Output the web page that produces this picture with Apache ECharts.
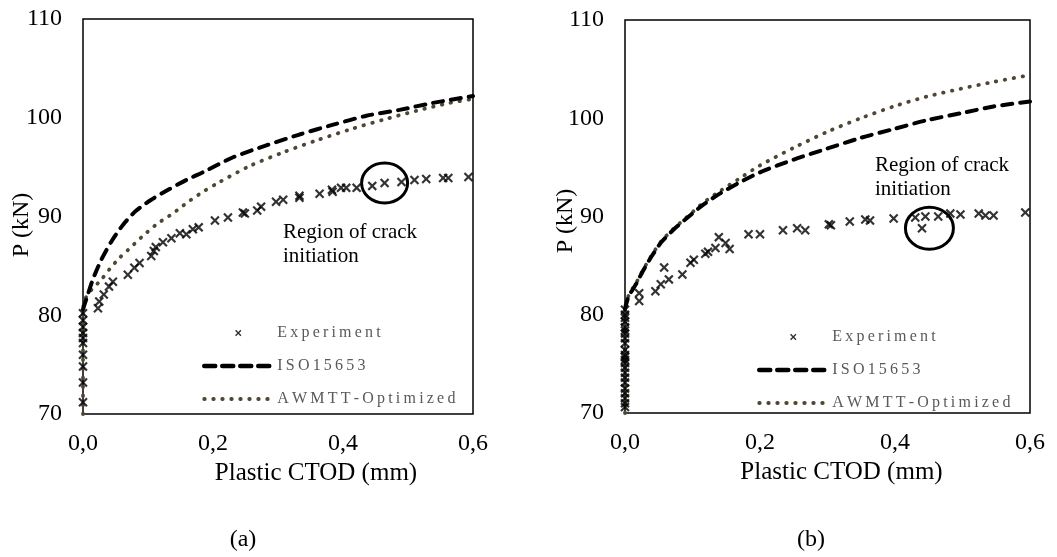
<!DOCTYPE html>
<html>
<head>
<meta charset="utf-8">
<script src="https://cdn.jsdelivr.net/npm/echarts@6/dist/echarts.min.js"></script>
<style>
html, body { margin: 0; padding: 0; background: #fff; }
#main { width: 1057px; height: 557px; }
</style>
</head>
<body>
<div id="main"></div>
<script>
// axes
var xMin = 0, xMax = 0.6, xStep = 0.2;
var yMin = 70, yMax = 110, yStep = 10;

// (a) experiment [CTOD, P]
var expA = [
    [0, 71.2], [0, 73.2], [0, 74.8], [0, 76.0], [0, 77.2], [0, 77.7], [0, 78.2], [0, 78.8], [0, 79.5], [0, 80.2],
    [0.023, 80.7], [0.025, 81.4], [0.032, 82.1], [0.040, 82.9], [0.046, 83.4], [0.069, 84.1], [0.079, 84.8],
    [0.087, 85.3], [0.105, 86.0], [0.109, 86.5], [0.112, 86.9], [0.123, 87.4], [0.136, 87.8], [0.149, 88.3],
    [0.159, 88.2], [0.169, 88.7], [0.178, 88.9], [0.203, 89.6], [0.223, 89.9], [0.246, 90.4], [0.249, 90.3],
    [0.268, 90.6], [0.274, 91.0], [0.297, 91.5], [0.308, 91.7], [0.333, 92.1], [0.333, 91.9], [0.364, 92.3],
    [0.383, 92.7], [0.384, 92.5], [0.397, 92.9], [0.405, 92.9], [0.421, 92.9], [0.445, 93.1], [0.464, 93.4],
    [0.490, 93.5], [0.510, 93.7], [0.528, 93.8], [0.554, 93.9], [0.562, 93.9], [0.593, 94.0]
];
// (a) ISO 15653
var isoA = [
    [0, 80.6], [0.005, 81.6], [0.015, 83.6], [0.028, 85.6], [0.044, 87.5], [0.062, 89.2], [0.082, 90.6],
    [0.105, 91.7], [0.131, 92.7], [0.159, 93.7], [0.185, 94.5], [0.231, 96.0], [0.282, 97.2], [0.333, 98.3],
    [0.385, 99.3], [0.436, 100.2], [0.487, 100.8], [0.538, 101.5], [0.6, 102.2]
];
// (a) AWMTT-Optimized
var awA = [
    [0, 70], [0, 80.5], [0.003, 81.6], [0.012, 82.5], [0.028, 83.6], [0.040, 84.6], [0.056, 85.8], [0.069, 86.6],
    [0.090, 87.9], [0.114, 89.25], [0.138, 90.3], [0.162, 91.5], [0.187, 92.6], [0.205, 93.3], [0.256, 95.1],
    [0.308, 96.5], [0.359, 97.7], [0.410, 98.8], [0.462, 99.8], [0.513, 100.7], [0.564, 101.5], [0.6, 101.9]
];

// (b) experiment
var expB = [
    [0, 70.6], [0, 71.0], [0, 71.5], [0, 72.0], [0, 72.5], [0, 73.1], [0, 73.6], [0, 74.1], [0, 74.6], [0, 75.1],
    [0, 75.4], [0, 75.7], [0, 75.9], [0, 76.4], [0, 77.1], [0, 77.6], [0, 78.1], [0, 78.4], [0, 78.7], [0, 79.3],
    [0, 79.7], [0, 80.0], [0, 80.5],
    [0.021, 81.4], [0.021, 82.2], [0.045, 82.4], [0.053, 83.1], [0.058, 84.8], [0.065, 83.6], [0.085, 84.1],
    [0.097, 85.3], [0.102, 85.6], [0.119, 86.2], [0.123, 86.4], [0.134, 86.8], [0.139, 87.9], [0.149, 87.3],
    [0.155, 86.7], [0.183, 88.2], [0.200, 88.2], [0.234, 88.6], [0.255, 88.8], [0.267, 88.6], [0.302, 89.2],
    [0.305, 89.1], [0.333, 89.5], [0.356, 89.7], [0.363, 89.6], [0.398, 89.8], [0.430, 89.9], [0.440, 88.8],
    [0.445, 90.0], [0.464, 90.0], [0.482, 90.3], [0.497, 90.2], [0.524, 90.3], [0.534, 90.1], [0.546, 90.1],
    [0.593, 90.4]
];
// (b) ISO 15653
var isoB = [
    [0, 80.6], [0.005, 81.8], [0.017, 83.2], [0.027, 84.5], [0.039, 85.9], [0.054, 87.4], [0.071, 88.6],
    [0.091, 89.8], [0.116, 91.2], [0.141, 92.35], [0.168, 93.4], [0.200, 94.5], [0.250, 95.8], [0.299, 96.9],
    [0.349, 98.0], [0.398, 98.9], [0.447, 99.8], [0.497, 100.5], [0.546, 101.2], [0.6, 101.7]
];
// (b) AWMTT-Optimized
var awB = [
    [0, 70], [0, 80.5], [0.005, 81.9], [0.017, 83.3], [0.027, 84.6], [0.039, 86.0], [0.054, 87.5], [0.071, 88.7],
    [0.091, 89.9], [0.116, 91.4], [0.141, 92.6], [0.168, 93.8], [0.200, 95.2], [0.250, 97.0], [0.299, 98.6],
    [0.349, 100.0], [0.398, 101.2], [0.447, 102.2], [0.497, 103.0], [0.546, 103.7], [0.6, 104.4]
];

// crack initiation circles: [CTOD, P] centre per panel
var crackA = [0.464, 93.4];
var crackB = [0.451, 88.8];

var serif = 'Liberation Serif';
var crossPath = 'path://M0,1.6L1.6,0L5,3.4L8.4,0L10,1.6L6.6,5L10,8.4L8.4,10L5,6.6L1.6,10L0,8.4L3.4,5Z';
// same cross with invisible corners so the legend icon comes out small
var crossIcon = crossPath.replace('Z', 'Z M-6,-6L-5.99,-6L-6,-5.99Z M16,16L15.99,16L16,15.99Z');

function spaced(name) {
    return name.split('').join('\u2009');
}

function xAxisOf(idx, pad) {
    return {
        gridIndex: idx, type: 'value', min: xMin, max: xMax, interval: xStep,
        name: 'Plastic CTOD (mm)', nameLocation: 'middle', nameGap: 47, nameMoveOverlap: false,
        nameTextStyle: { fontFamily: serif, fontSize: 25, color: '#000', padding: [0, 0, 0, pad] },
        axisLine: { show: false }, axisTick: { show: false }, splitLine: { show: false },
        axisLabel: {
            fontFamily: serif, fontSize: 24, color: '#000', margin: 18,
            formatter: function (v) { return v.toFixed(1).replace('.', ','); }
        }
    };
}

function yAxisOf(idx, gap, pad) {
    return {
        gridIndex: idx, type: 'value', min: yMin, max: yMax, interval: yStep,
        name: 'P (kN)', nameLocation: 'middle', nameGap: gap, nameMoveOverlap: false,
        nameTextStyle: { fontFamily: serif, fontSize: 24, color: '#000', padding: [0, pad, 0, 0] },
        axisLine: { show: false }, axisTick: { show: false }, splitLine: { show: false },
        axisLabel: { fontFamily: serif, fontSize: 24, color: '#000', margin: 21 }
    };
}

function legendOf(left, top) {
    return {
        orient: 'vertical', left: left, top: top,
        itemWidth: 68, itemHeight: 14, itemGap: 17,
        selectedMode: false,
        formatter: spaced,
        textStyle: { fontFamily: serif, fontSize: 16, color: '#595959' },
        data: [
            { name: 'Experiment', icon: crossIcon, itemStyle: { color: '#000' } },
            {
                name: 'ISO15653', itemStyle: { opacity: 0 },
                lineStyle: { color: '#000', width: 4.5, type: [11, 7], cap: 'round', opacity: 1 }
            },
            {
                name: 'AWMTT-Optimized', itemStyle: { opacity: 0 },
                lineStyle: { color: '#4f4731', width: 3.8, type: [0.5, 8.5], cap: 'round', opacity: 1 }
            }
        ]
    };
}

function seriesOf(idx, exp, iso, aw) {
    return [
        {
            name: 'Experiment', type: 'scatter', xAxisIndex: idx, yAxisIndex: idx,
            data: exp, symbol: crossPath, symbolSize: 9.5, z: 4,
            itemStyle: { color: '#000' }
        },
        {
            name: 'ISO15653', type: 'line', xAxisIndex: idx, yAxisIndex: idx,
            data: iso, symbol: 'none', smooth: 0.25, clip: false, z: 3,
            itemStyle: { color: '#000' },
            lineStyle: { color: '#000', width: 4, type: [10, 8], cap: 'round' }
        },
        {
            name: 'AWMTT-Optimized', type: 'line', xAxisIndex: idx, yAxisIndex: idx,
            data: aw, symbol: 'none', smooth: 0.25, clip: false, z: 2,
            itemStyle: { color: '#4f4731' },
            lineStyle: { color: '#4f4731', width: 3.8, type: [0.5, 8.5], cap: 'round' }
        }
    ];
}

var chart = echarts.init(document.getElementById('main'));
chart.setOption({
    animation: false,
    backgroundColor: '#fff',
    grid: [
        { left: 83, top: 19, width: 390, height: 395, show: true, borderColor: '#000', borderWidth: 1.5, backgroundColor: 'transparent' },
        { left: 625, top: 20, width: 405, height: 393, show: true, borderColor: '#000', borderWidth: 1.5, backgroundColor: 'transparent' }
    ],
    xAxis: [xAxisOf(0, 76), xAxisOf(1, 28)],
    yAxis: [yAxisOf(0, 49, 17), yAxisOf(1, 47, 9)],
    legend: [legendOf(197, 320), legendOf(752, 324)],
    series: seriesOf(0, expA, isoA, awA).concat(seriesOf(1, expB, isoB, awB))
});

// annotations, placed through the axes
var pA = chart.convertToPixel({ xAxisIndex: 0, yAxisIndex: 0 }, crackA);
var pB = chart.convertToPixel({ xAxisIndex: 1, yAxisIndex: 1 }, crackB);
var noteStyle = { fontFamily: serif, fontSize: 21, lineHeight: 24, fill: '#000' };
chart.setOption({
    graphic: [
        { type: 'ellipse', shape: { cx: pA[0], cy: pA[1], rx: 23, ry: 20 }, style: { fill: 'none', stroke: '#000', lineWidth: 3 }, z: 10 },
        { type: 'ellipse', shape: { cx: pB[0], cy: pB[1], rx: 24, ry: 21 }, style: { fill: 'none', stroke: '#000', lineWidth: 3 }, z: 10 },
        { type: 'text', x: 283, y: 220, style: Object.assign({ text: 'Region of crack\ninitiation' }, noteStyle), z: 10 },
        { type: 'text', x: 875, y: 153, style: Object.assign({ text: 'Region of crack\ninitiation' }, noteStyle), z: 10 },
        { type: 'text', x: 243, y: 540, style: { text: '(a)', fontFamily: serif, fontSize: 24, fill: '#000', align: 'center', verticalAlign: 'middle' } },
        { type: 'text', x: 811, y: 540, style: { text: '(b)', fontFamily: serif, fontSize: 24, fill: '#000', align: 'center', verticalAlign: 'middle' } }
    ]
});

window.addEventListener('resize', function () {
    chart.resize();
});
</script>
</body>
</html>
